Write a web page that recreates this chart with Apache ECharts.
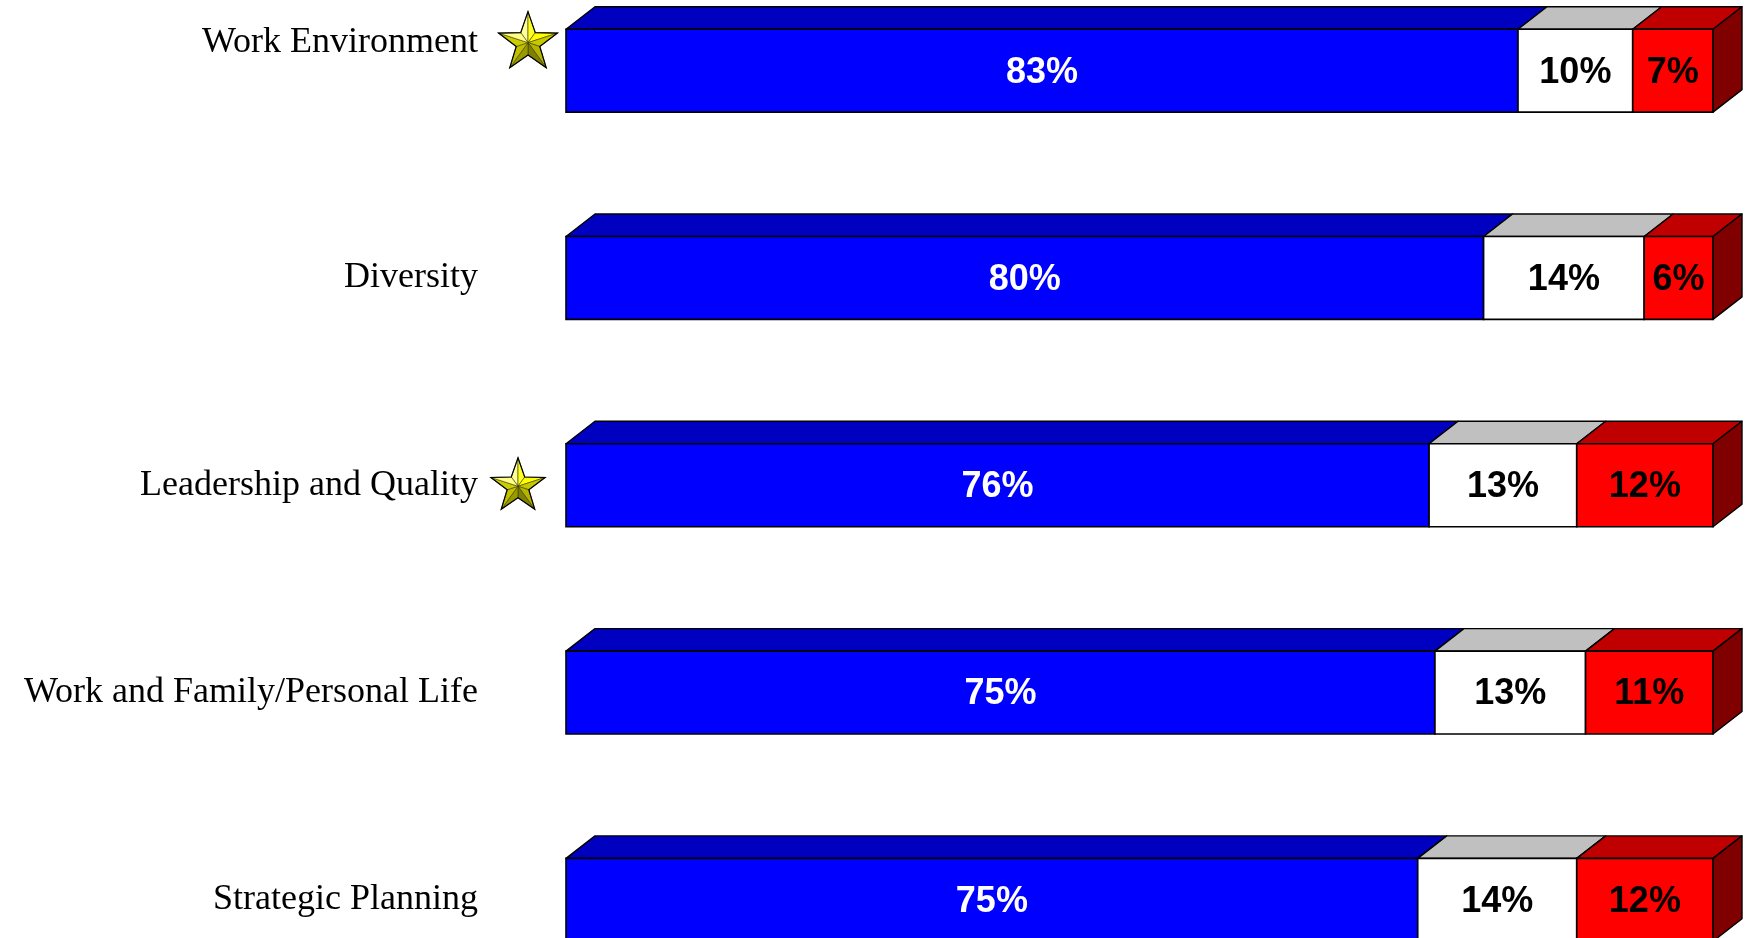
<!DOCTYPE html>
<html>
<head>
<meta charset="utf-8">
<script src="https://cdn.jsdelivr.net/npm/echarts@6/dist/echarts.min.js"></script>
<style>
  html, body { margin: 0; padding: 0; background: #fff; }
  #chart { width: 1748px; height: 938px; }
</style>
</head>
<body>
<div id="chart"></div>
<script>
// Survey results per dimension (percent favorable / neutral / unfavorable)
const categories = [
  'Work Environment',
  'Diversity',
  'Leadership and Quality',
  'Work and Family/Personal Life',
  'Strategic Planning'
];
const favorable   = [83, 80, 76, 75, 75];
const neutral     = [10, 14, 13, 13, 14];
const unfavorable = [7, 6, 12, 11, 12];
// Dimensions flagged with a star
const starred = ['Work Environment', 'Leadership and Quality'];

// Styling
const DEPTH_X = 29, DEPTH_Y = 22.5;
const SEGMENTS = [
  { front: '#0000FF', top: '#0000C0', text: '#FFFFFF' },
  { front: '#FFFFFF', top: '#C0C0C0', text: '#000000' },
  { front: '#FF0000', top: '#C00000', text: '#000000', side: '#800000' }
];
const LABEL_LIFT = { 'Work Environment': 28 };

function starShapes(cx, cy, R) {
  const r = R * 0.40;
  const pt = (deg, rad) => [cx + rad * Math.cos(deg * Math.PI / 180), cy + rad * Math.sin(deg * Math.PI / 180)];
  // facet colours, going clockwise from the top point: [left half, right half]
  const colors = [
    ['#FFFF99', '#FFFF22'],
    ['#FFFF00', '#C8C800'],
    ['#B4B400', '#808000'],
    ['#999900', '#C0C000'],
    ['#CCCC00', '#FFFF88']
  ];
  const out = [];
  const outline = [];
  for (let k = 0; k < 5; k++) {
    const a = -90 + 72 * k;
    const outer = pt(a, R);
    const innerPrev = pt(a - 36, r);
    const innerNext = pt(a + 36, r);
    out.push({ type: 'polygon', shape: { points: [[cx, cy], innerPrev, outer] },
      style: { fill: colors[k][0], stroke: '#3a3a00', lineWidth: 0.6 } });
    out.push({ type: 'polygon', shape: { points: [[cx, cy], outer, innerNext] },
      style: { fill: colors[k][1], stroke: '#3a3a00', lineWidth: 0.6 } });
    outline.push(outer, innerNext);
  }
  out.push({ type: 'polygon', shape: { points: outline },
    style: { fill: null, stroke: '#000', lineWidth: 1.2 } });
  return out;
}

function renderItem(params, api) {
  const idx = api.value(0);
  const vals = [api.value(1), api.value(2), api.value(3)];
  const total = vals[0] + vals[1] + vals[2];
  const band = api.size([0, 1])[1];
  const h = band * 0.4;
  const cy = api.coord([0, idx])[1];
  const yTop = cy - h / 2, yBot = cy + h / 2;
  const tops = [], fronts = [], texts = [];
  let acc = 0;
  let xEnd = 0;
  for (let s = 0; s < 3; s++) {
    const x0 = api.coord([acc / total * 100, idx])[0];
    acc += vals[s];
    const x1 = api.coord([acc / total * 100, idx])[0];
    xEnd = x1;
    const seg = SEGMENTS[s];
    tops.push({ type: 'polygon', shape: { points: [[x0, yTop], [x1, yTop], [x1 + DEPTH_X, yTop - DEPTH_Y], [x0 + DEPTH_X, yTop - DEPTH_Y]] },
      style: { fill: seg.top, stroke: '#000', lineWidth: 1.4, lineJoin: 'round' } });
    fronts.push({ type: 'rect', shape: { x: x0, y: yTop, width: x1 - x0, height: h },
      style: { fill: seg.front, stroke: '#000', lineWidth: 1.6 } });
    texts.push({ type: 'text', style: {
      text: vals[s] + '%', x: (x0 + x1) / 2, y: cy + 2, align: 'center', verticalAlign: 'middle',
      fill: seg.text, font: 'bold 36px "Liberation Sans", Arial, sans-serif' } });
  }
  const side = { type: 'polygon', shape: { points: [[xEnd, yTop], [xEnd + DEPTH_X, yTop - DEPTH_Y], [xEnd + DEPTH_X, yBot - DEPTH_Y], [xEnd, yBot]] },
    style: { fill: SEGMENTS[2].side, stroke: '#000', lineWidth: 1.4, lineJoin: 'round' } };
  let children = tops.concat(fronts, [side], texts);
  const name = categories[idx];
  if (starred.indexOf(name) >= 0) {
    const x0 = api.coord([0, idx])[0];
    const lift = LABEL_LIFT[name] || 0;
    const star = lift ? starShapes(x0 - 38, cy - lift, 31) : starShapes(x0 - 48, cy + 1, 28.5);
    children = children.concat(star);
  }
  return { type: 'group', children: children };
}

const chart = echarts.init(document.getElementById('chart'), null, { renderer: 'canvas' });
chart.setOption({
  animation: false,
  backgroundColor: '#FFFFFF',
  grid: { left: 566, width: 1147, top: -33, height: 1036.5, containLabel: false, outerBoundsMode: 'none' },
  xAxis: { type: 'value', min: 0, max: 100, show: false },
  yAxis: {
    type: 'category',
    data: categories,
    inverse: true,
    axisLine: { show: false },
    axisTick: { show: false },
    splitLine: { show: false },
    axisLabel: {
      margin: 88,
      color: '#000',
      fontFamily: '"Liberation Serif", "Times New Roman", serif',
      fontSize: 36,
      formatter: function (v) {
        return LABEL_LIFT[v] ? '{lift|' + v + '}' : v;
      },
      rich: {
        lift: {
          fontFamily: '"Liberation Serif", "Times New Roman", serif',
          fontSize: 36, color: '#000', padding: [0, 0, 56, 0]
        }
      }
    }
  },
  series: [{
    type: 'custom',
    coordinateSystem: 'cartesian2d',
    clip: false,
    renderItem: renderItem,
    encode: { y: 0, x: 1 },
    data: categories.map((c, i) => [i, favorable[i], neutral[i], unfavorable[i]])
  }]
});
</script>
</body>
</html>
